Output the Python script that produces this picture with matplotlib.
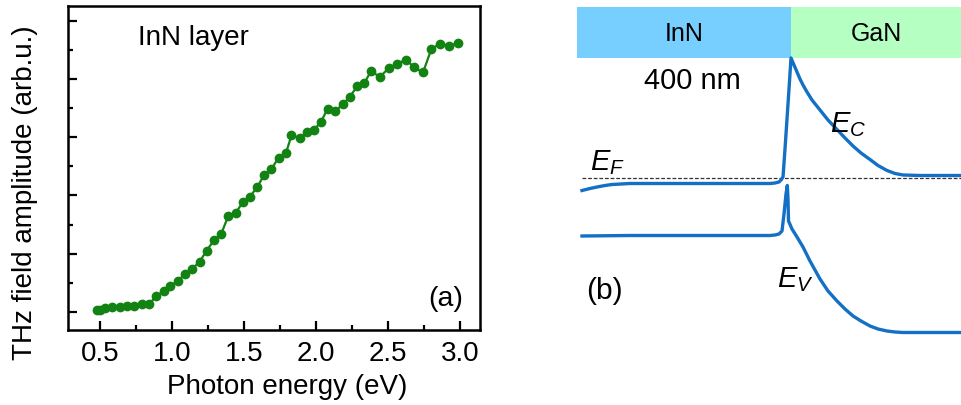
import numpy as np
import matplotlib.pyplot as plt
from matplotlib.ticker import MultipleLocator, NullFormatter

plt.rcParams['font.family'] = ['Liberation Sans', 'DejaVu Sans']
plt.rcParams['mathtext.fontset'] = 'custom'
plt.rcParams['mathtext.it'] = 'Liberation Sans:italic'
plt.rcParams['mathtext.rm'] = 'Liberation Sans'

# (a) THz amplitude vs photon energy
energy = [0.48, 0.50, 0.535, 0.586, 0.640, 0.686, 0.737, 0.791, 0.842, 0.891,
          0.942, 0.988, 1.040, 1.088, 1.140, 1.191, 1.240, 1.291, 1.342, 1.391,
          1.442, 1.491, 1.542, 1.591, 1.640, 1.691, 1.740, 1.791, 1.830, 1.888,
          1.935, 1.988, 2.035, 2.081, 2.135, 2.186, 2.235, 2.286, 2.337, 2.384,
          2.442, 2.505, 2.563, 2.628, 2.679, 2.744, 2.802, 2.860, 2.923, 2.988]
amplitude = [0.03, 0.04, 0.07, 0.08, 0.08, 0.10, 0.11, 0.13, 0.14, 0.27,
             0.36, 0.45, 0.53, 0.65, 0.74, 0.86, 1.05, 1.23, 1.34, 1.65,
             1.70, 1.88, 1.98, 2.14, 2.35, 2.45, 2.65, 2.72, 3.03, 2.99,
             3.08, 3.13, 3.26, 3.49, 3.45, 3.56, 3.69, 3.87, 3.93, 4.14,
             4.03, 4.18, 4.26, 4.33, 4.20, 4.11, 4.51, 4.60, 4.57, 4.61]

# (b) band diagram, position / energy in arbitrary units
cb_pos = [12, 20, 27, 35, 42, 60, 100, 150, 200, 205, 209, 211, 213, 215, 217,
          219, 221, 224, 227, 230, 233, 237, 242, 250, 258, 267, 275, 283, 291,
          300, 308, 317, 325, 333, 350, 391]
cb_en = [214.5, 216.5, 218, 219.5, 220.5, 221.5, 221.5, 221.5, 221.5, 222, 223,
         225, 228, 256, 286, 316, 347, 340, 333, 326, 320, 313, 305, 295, 285,
         275.5, 267, 259, 252, 245.5, 239.5, 234.5, 231.5, 230, 229.5, 229.5]
vb_pos = [12, 60, 100, 150, 200, 205, 209, 212, 214, 216, 217.3, 218, 218.5,
          222, 227, 233, 240, 250, 258, 267, 275, 283, 291, 300, 308, 317, 325,
          333, 391]
vb_en = [169, 169.5, 169.5, 169.5, 169.5, 170, 171, 174, 191, 211, 219.5, 206,
         184, 176, 168, 158, 144, 126, 114, 104, 96, 89, 84, 79, 76, 74, 73,
         72.5, 72.5]
fermi_level = 226.7
layers = ['InN', 'GaN']
layer_edges = [7, 221, 391]
layer_colors = ['#76CFFE', '#B4FFC1']

fig = plt.figure(figsize=(9.61, 4.06), dpi=100)
W, H = 961, 406


def px(x, y):
    # image pixel (from top-left) -> figure fraction
    return x / W, 1 - y / H


ax = fig.add_axes([68 / W, (H - 331) / H, (480 - 68) / W, (331 - 7) / H])
ax.plot(energy, amplitude, '-o', color='#128312', ms=6, lw=1.6)
ax.set_xlim(0.277, 3.14)
ax.set_ylim(-0.31, 5.25)
ax.xaxis.set_major_locator(MultipleLocator(0.5))
ax.xaxis.set_minor_locator(MultipleLocator(0.25))
ax.yaxis.set_major_locator(MultipleLocator(1))
ax.yaxis.set_minor_locator(MultipleLocator(0.5))
ax.yaxis.set_major_formatter(NullFormatter())
ax.tick_params(which='both', direction='in', width=1.6, top=False, right=False)
ax.tick_params(which='major', length=6.5)
ax.tick_params(which='minor', length=3.8)
ax.tick_params(axis='x', labelsize=20, pad=7)
for s in ax.spines.values():
    s.set_linewidth(1.8)
fig.text(*px(193, 38), 'InN layer', fontsize=20, ha='center', va='center')
fig.text(*px(446, 299), '(a)', fontsize=20.5, ha='center', va='center')
fig.text(*px(287, 387), 'Photon energy (eV)', fontsize=20, ha='center', va='center')
fig.text(*px(25, 193), 'THz field amplitude (arb.u.)', fontsize=20,
         ha='center', va='center', rotation=90)

# (b)
bx = fig.add_axes([570 / W, 0, 391 / W, 1])
bx.set_xlim(0, 391)
bx.set_ylim(0, 406)
bx.axis('off')
for i, name in enumerate(layers):
    bx.axvspan(layer_edges[i], layer_edges[i + 1], ymin=(406 - 59.3) / 406, ymax=(406 - 8) / 406,
               color=layer_colors[i], lw=0)
    bx.text((layer_edges[i] + layer_edges[i + 1]) / 2, 406 - 34, name,
            fontsize=18, ha='center', va='center')
bx.axhline(fermi_level, xmin=12 / 391, xmax=1, color='#333333', lw=0.9, ls=(0, (3, 1.5)))
bx.plot(cb_pos, cb_en, color='#1470c4', lw=2.4, solid_joinstyle='round')
bx.plot(vb_pos, vb_en, color='#1470c4', lw=2.4, solid_joinstyle='round')
bx.text(122, 406 - 81, '400 nm', fontsize=21, ha='center', va='center')
bx.text(278, 406 - 125, '$E_C$', fontsize=21, ha='center', va='center')
bx.text(37, 406 - 163, '$E_F$', fontsize=21, ha='center', va='center')
bx.text(225, 406 - 280, '$E_V$', fontsize=21, ha='center', va='center')
bx.text(34, 406 - 291, '(b)', fontsize=21.5, ha='center', va='center')

fig.savefig('out.png', dpi=100)
